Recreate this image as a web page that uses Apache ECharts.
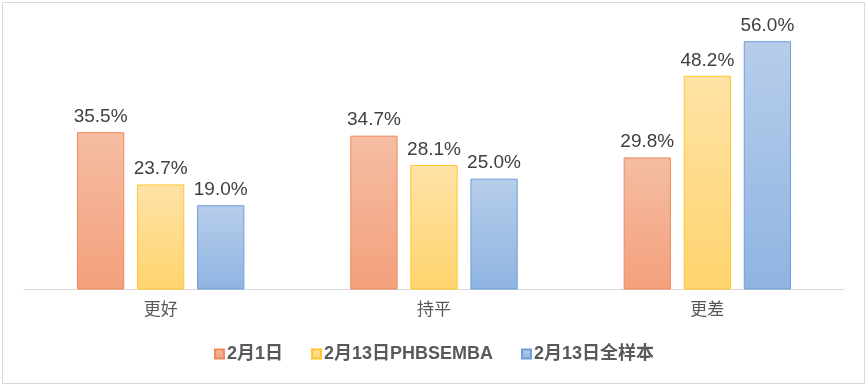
<!DOCTYPE html>
<html><head><meta charset="utf-8">
<script src="https://cdn.jsdelivr.net/npm/echarts@6/dist/echarts.min.js"></script>
<style>html,body{margin:0;padding:0;background:#fff}#c{width:868px;height:387px;box-sizing:border-box}
#frame{position:absolute;left:2px;top:2px;width:863px;height:382px;border:1px solid #d9d9d9;box-sizing:border-box;pointer-events:none}</style>
</head><body><div id="c"></div><div id="frame"></div>
<script>
const categories = ['更好', '持平', '更差'];
const seriesNames = ['2月1日', '2月13日PHBSEMBA', '2月13日全样本'];
const feb1 = [35.5, 34.7, 29.8];
const feb13Emba = [23.7, 28.1, 48.2];
const feb13All = [19.0, 25.0, 56.0];

const styles = [
  {top:'#f5bda3', bottom:'#f4a07c', border:'#ee8a5c'},
  {top:'#ffe2a6', bottom:'#ffd46e', border:'#ffc62e'},
  {top:'#b7cdea', bottom:'#8fb4e2', border:'#6f9fd8'}
];
const dataArr = [feb1, feb13Emba, feb13All];
const chart = echarts.init(document.getElementById('c'));
const font = '"Liberation Sans", Arial, "Noto Sans CJK SC", sans-serif';
chart.setOption({
  animation:false,
  grid:{left:24, right:24, top:23.5, bottom:97.5, containLabel:false},
  legend:{
    bottom:19, left:'center', itemWidth:9, itemHeight:9, itemGap:28, icon:'rect',
    textStyle:{fontFamily:font, fontSize:18, fontWeight:'bold', color:'#595959', padding:[0,0,0,-2]},
    data: seriesNames
  },
  xAxis:{type:'category', data:categories,
    axisLine:{lineStyle:{color:'#d9d9d9', width:1}}, axisTick:{show:false},
    axisLabel:{fontFamily:font, fontSize:17, color:'#595959', margin:12}},
  yAxis:{type:'value', min:0, max:60, show:false, splitLine:{show:false}},
  series: dataArr.map((d,i)=>({
    name:seriesNames[i], type:'bar', data:d, barWidth:'17.3%', barGap:'27%',
    itemStyle:{
      color:new echarts.graphic.LinearGradient(0,0,0,1,[{offset:0,color:styles[i].top},{offset:1,color:styles[i].bottom}]),
      borderColor:styles[i].border, borderWidth:1
    },
    label:{show:true, position:'top', distance:6, fontFamily:font, fontSize:19, color:'#404040',
      formatter:p=>p.value.toFixed(1)+'%'}
  }))
});
</script></body></html>
